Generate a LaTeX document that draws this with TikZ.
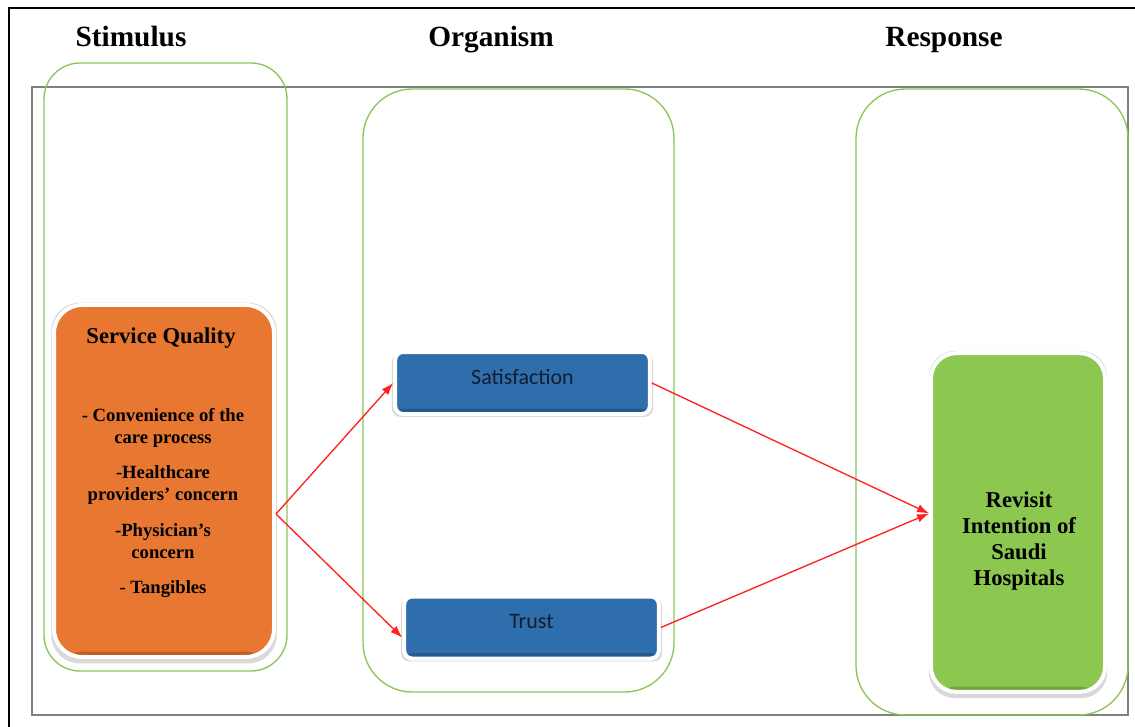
\documentclass[tikz,border=0pt]{standalone}
\usepackage{fontspec}
\setmainfont{Liberation Serif}
\newfontfamily\calfont{Carlito}
\usetikzlibrary{arrows.meta}
\usetikzlibrary{shadows}
\definecolor{laneg}{RGB}{140,196,90}
\definecolor{sqorange}{RGB}{232,119,49}
\definecolor{mblue}{RGB}{46,110,172}
\definecolor{rvgreen}{RGB}{140,200,80}
\definecolor{arrred}{RGB}{255,32,32}
\definecolor{txtdark}{RGB}{20,28,45}

\begin{document}
\begin{tikzpicture}[x=0.75pt,y=-0.75pt,
		heading/.style={font=\bfseries\fontsize{22pt}{26pt}\selectfont, anchor=base, inner sep=0pt},
		lane/.style={draw=laneg, line width=1pt},
		bevel/.style={draw=white, line width=3pt,
			drop shadow={shadow xshift=0pt, shadow yshift=-1.5pt, shadow scale=1.025, opacity=.22, fill=black!70},
			path picture={\fill[black, opacity=.18] ([yshift=4pt]path picture bounding box.south west) rectangle (path picture bounding box.south east);}},
		sqbox/.style={bevel, fill=sqorange, rounded corners=21pt, minimum width=165pt, minimum height=264pt},
		mbox/.style={bevel, fill=mblue, rounded corners=6pt, minimum width=191pt, minimum height=46.5pt,
			font=\calfont\fontsize{16.5pt}{19pt}\selectfont, text=txtdark, text depth=9pt},
		rvbox/.style={bevel, fill=rvgreen, rounded corners=19pt, minimum width=130.5pt, minimum height=254pt},
		boxtext/.style 2 args={font=\bfseries\fontsize{#1}{#2}\selectfont, align=center, inner sep=0pt},
		link/.style={draw=arrred, line width=1pt, -{Latex[length=9pt,width=6.5pt]}}]
	\useasboundingbox (0,0) rectangle (1135,727);
	\draw[line width=1.5pt] (9,727) -- (9,8) -- (1135,8);
	\draw[gray, line width=0.8pt] (32,87) rectangle (1128,715);
	\draw[lane, rounded corners=27pt] (44,63) rectangle (287,671);
	\draw[lane, rounded corners=37pt] (363,89) rectangle (674,692);
	\draw[lane, rounded corners=37pt] (856,89) rectangle (1128,715);
	\node[heading] (stim) at (131,47) {Stimulus};
	\node[heading] (orgn) at (491,47) {Organism};
	\node[heading] (resp) at (944,47) {Response};
	\node[sqbox] (sq) at (164,481) {};
	\node[boxtext={17pt}{20pt}, anchor=base] (sqhead) at (161,344) {Service Quality};
	\node[boxtext={14pt}{16.5pt}] (sqlist) at (163,503) {- Convenience of the\\care process\\[10pt]-Healthcare\\providers' concern\\[10pt]-Physician's\\concern\\[10pt]- Tangibles};
	\node[mbox] (sat) at (522.5,383) {Satisfaction};
	\node[mbox] (trust) at (531.5,627.5) {Trust};
	\node[rvbox] (rv) at (1018,522.5) {};
	\node[boxtext={17pt}{19.5pt}] (rvlabel) at (1019,541) {Revisit\\Intention of\\Saudi\\Hospitals};
	\draw[link] ([yshift=-24.75pt]sq.east) -- (sat.west);
	\draw[link] ([yshift=-24.75pt]sq.east) -- ([yshift=-7.5pt]trust.west);
	\draw[link] (sat.east) -- ([yshift=6.75pt]rv.west);
	\draw[link] (trust.east) -- ([yshift=6.75pt]rv.west);
\end{tikzpicture}
\end{document}
